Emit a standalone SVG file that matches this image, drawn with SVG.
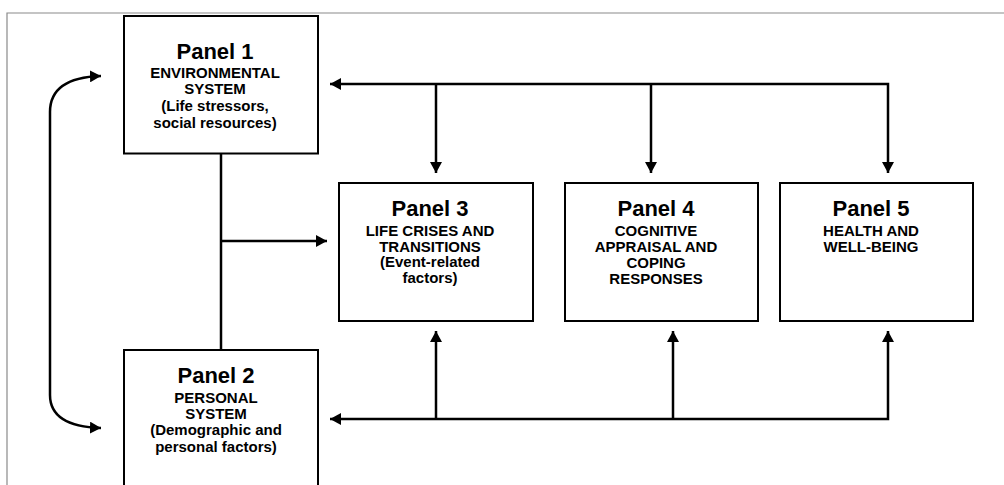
<svg xmlns="http://www.w3.org/2000/svg" width="1004" height="485" viewBox="0 0 1004 485">
<defs>
<style>
.box{fill:#fff;stroke:#000;stroke-width:2}
.ln{fill:none;stroke:#000;stroke-width:2.5}
.h{font-family:"Liberation Sans",Arial,sans-serif;font-weight:bold;font-size:22px;text-anchor:middle;fill:#000}
.s{font-family:"Liberation Sans",Arial,sans-serif;font-weight:bold;font-size:15px;text-anchor:middle;fill:#000}
</style>
<marker id="ah" markerUnits="userSpaceOnUse" markerWidth="12" markerHeight="12" refX="11" refY="6" orient="auto-start-reverse">
<path d="M0,0 L11,6 L0,12 z" fill="#000"/>
</marker>
</defs>
<rect width="1004" height="485" fill="#fff"/>
<path d="M7,485 V13 H1004" fill="none" stroke="#8a8a8a" stroke-width="1.2"/>
<g id="connectors">
<path class="ln" d="M221,153 V350"/>
<path class="ln" d="M221,241 H327" marker-end="url(#ah)"/>
<path class="ln" d="M50,112 C50,88 68,77 101,76" marker-end="url(#ah)"/>
<path class="ln" d="M50,112 V395 C50,417 68,427 101,428" marker-end="url(#ah)"/>
<path class="ln" d="M330,84 H888 V173" marker-start="url(#ah)" marker-end="url(#ah)"/>
<path class="ln" d="M436,84 V173" marker-end="url(#ah)"/>
<path class="ln" d="M651,84 V173" marker-end="url(#ah)"/>
<path class="ln" d="M330,419 H888 V331" marker-start="url(#ah)" marker-end="url(#ah)"/>
<path class="ln" d="M436,419 V331" marker-end="url(#ah)"/>
<path class="ln" d="M673,419 V331" marker-end="url(#ah)"/>
</g>
<g id="panel1">
<rect class="box" x="124" y="16" width="194" height="137.5"/>
<text class="h" x="215" y="59">Panel 1</text>
<text class="s" x="215" y="78">ENVIRONMENTAL</text>
<text class="s" x="215" y="94">SYSTEM</text>
<text class="s" x="215" y="111">(Life stressors,</text>
<text class="s" x="215" y="127.5">social resources)</text>
</g>
<g id="panel2">
<rect class="box" x="124" y="350" width="194" height="145"/>
<text class="h" x="216" y="383">Panel 2</text>
<text class="s" x="216" y="403">PERSONAL</text>
<text class="s" x="216" y="418.5">SYSTEM</text>
<text class="s" x="216" y="434.5">(Demographic and</text>
<text class="s" x="216" y="451.5">personal factors)</text>
</g>
<g id="panel3">
<rect class="box" x="339" y="183" width="194" height="138"/>
<text class="h" x="430" y="216">Panel 3</text>
<text class="s" x="430" y="235.5">LIFE CRISES AND</text>
<text class="s" x="430" y="251.5">TRANSITIONS</text>
<text class="s" x="430" y="267">(Event-related</text>
<text class="s" x="430" y="283">factors)</text>
</g>
<g id="panel4">
<rect class="box" x="565" y="183" width="193" height="138"/>
<text class="h" x="656" y="216">Panel 4</text>
<text class="s" x="656" y="235.5">COGNITIVE</text>
<text class="s" x="656" y="251.5">APPRAISAL AND</text>
<text class="s" x="656" y="267.5">COPING</text>
<text class="s" x="656" y="283.5">RESPONSES</text>
</g>
<g id="panel5">
<rect class="box" x="780" y="183" width="193" height="138"/>
<text class="h" x="871" y="216">Panel 5</text>
<text class="s" x="871" y="235.5">HEALTH AND</text>
<text class="s" x="871" y="251.5">WELL-BEING</text>
</g>
</svg>
